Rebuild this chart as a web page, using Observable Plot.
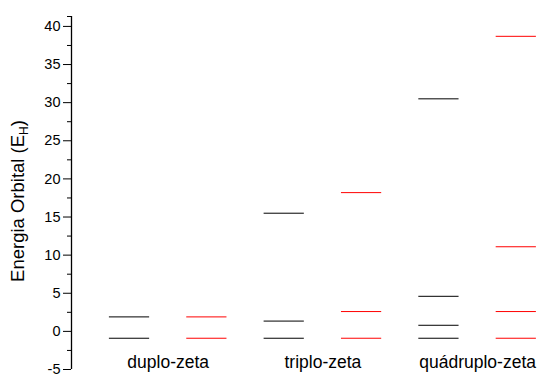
<!DOCTYPE html>
<html>
<head>
<meta charset="utf-8">
<script src="https://cdn.jsdelivr.net/npm/d3@7"></script>
<script src="https://cdn.jsdelivr.net/npm/@observablehq/plot@0.6"></script>
<style>
  html, body { margin: 0; padding: 0; background: #fff; }
  #chart svg { display: block; }
</style>
</head>
<body>
<div id="chart"></div>
<script>
// Categories (basis sets)
const categories = ["duplo-zeta", "triplo-zeta", "quádruplo-zeta"];
// Orbital energy levels (E_H), black series, per category
const blackDuplo = [-0.9, 1.9];
const blackTriplo = [-0.9, 1.35, 15.5];
const blackQuadruplo = [-0.9, 0.8, 4.6, 30.5];
// Orbital energy levels (E_H), red series, per category
const redDuplo = [-0.9, 1.9];
const redTriplo = [-0.9, 2.6, 18.2];
const redQuadruplo = [-0.9, 2.6, 11.1, 38.7];
// Y axis ticks
const majorTicks = [-5, 0, 5, 10, 15, 20, 25, 30, 35, 40];
const minorTicks = [-2.5, 2.5, 7.5, 12.5, 17.5, 22.5, 27.5, 32.5, 37.5, 41.3];
const yLabel = "Energia Orbital (E";
const yLabelSub = "H";

const series = [
  {name: "black", color: "#000", levels: [blackDuplo, blackTriplo, blackQuadruplo]},
  {name: "red", color: "#ff0000", levels: [redDuplo, redTriplo, redQuadruplo]}
];

const halfWidth = 0.26;
const levels = [];
series.forEach((s, si) => {
  s.levels.forEach((arr, ci) => {
    const slot = ci * 2 + si + 1;
    arr.forEach(v => levels.push({category: categories[ci], series: s.name, color: s.color, slot, value: v}));
  });
});
const catLabels = categories.map((c, i) => ({name: c, pos: i * 2 + 1.5}));

const yDomain = [-5, 41.3];

const labelMark = (index, scales, values, dimensions) => {
  const g = d3.create("svg:g");
  const cy = 201;
  const t = g.append("text")
    .attr("transform", `translate(24,${cy}) rotate(-90)`)
    .attr("text-anchor", "middle")
    .attr("font-family", "'Liberation Sans', Arial, Helvetica, sans-serif")
    .attr("font-size", 18.5)
    .attr("fill", "#000");
  t.append("tspan").text(yLabel);
  t.append("tspan").attr("font-size", 12).attr("dy", 4).text(yLabelSub);
  t.append("tspan").attr("dy", -4).text(")");
  return g.node();
};

const chart = Plot.plot({
  width: 539,
  height: 377,
  marginLeft: 71,
  marginRight: 0,
  marginTop: 16,
  marginBottom: 8,
  style: {fontFamily: "'Liberation Sans', Arial, Helvetica, sans-serif", background: "#fff"},
  x: {domain: [0.25, 6.3], axis: null},
  y: {domain: yDomain},
  marks: [
    Plot.axisY({ticks: majorTicks, tickSize: 8, tickPadding: 3, fontSize: 14.5, label: null, tickFormat: d => String(d), stroke: "#000", strokeOpacity: 1, color: "#000"}),
    Plot.axisY({ticks: minorTicks, tickSize: 4, text: null, label: null, stroke: "#000", strokeOpacity: 1}),
    Plot.ruleX([0.25], {y1: yDomain[0], y2: yDomain[1], stroke: "#000", strokeWidth: 1.3}),
    Plot.ruleY(levels, {y: "value", x1: d => d.slot - halfWidth, x2: d => d.slot + halfWidth, stroke: "color", strokeWidth: 1}),
    Plot.text(catLabels, {x: "pos", y: () => yDomain[0], text: "name", dy: -7, fontSize: 17.5, fill: "#000", textAnchor: "middle", lineAnchor: "middle"}),
    labelMark
  ]
});
document.getElementById("chart").append(chart);
</script>
</body>
</html>
